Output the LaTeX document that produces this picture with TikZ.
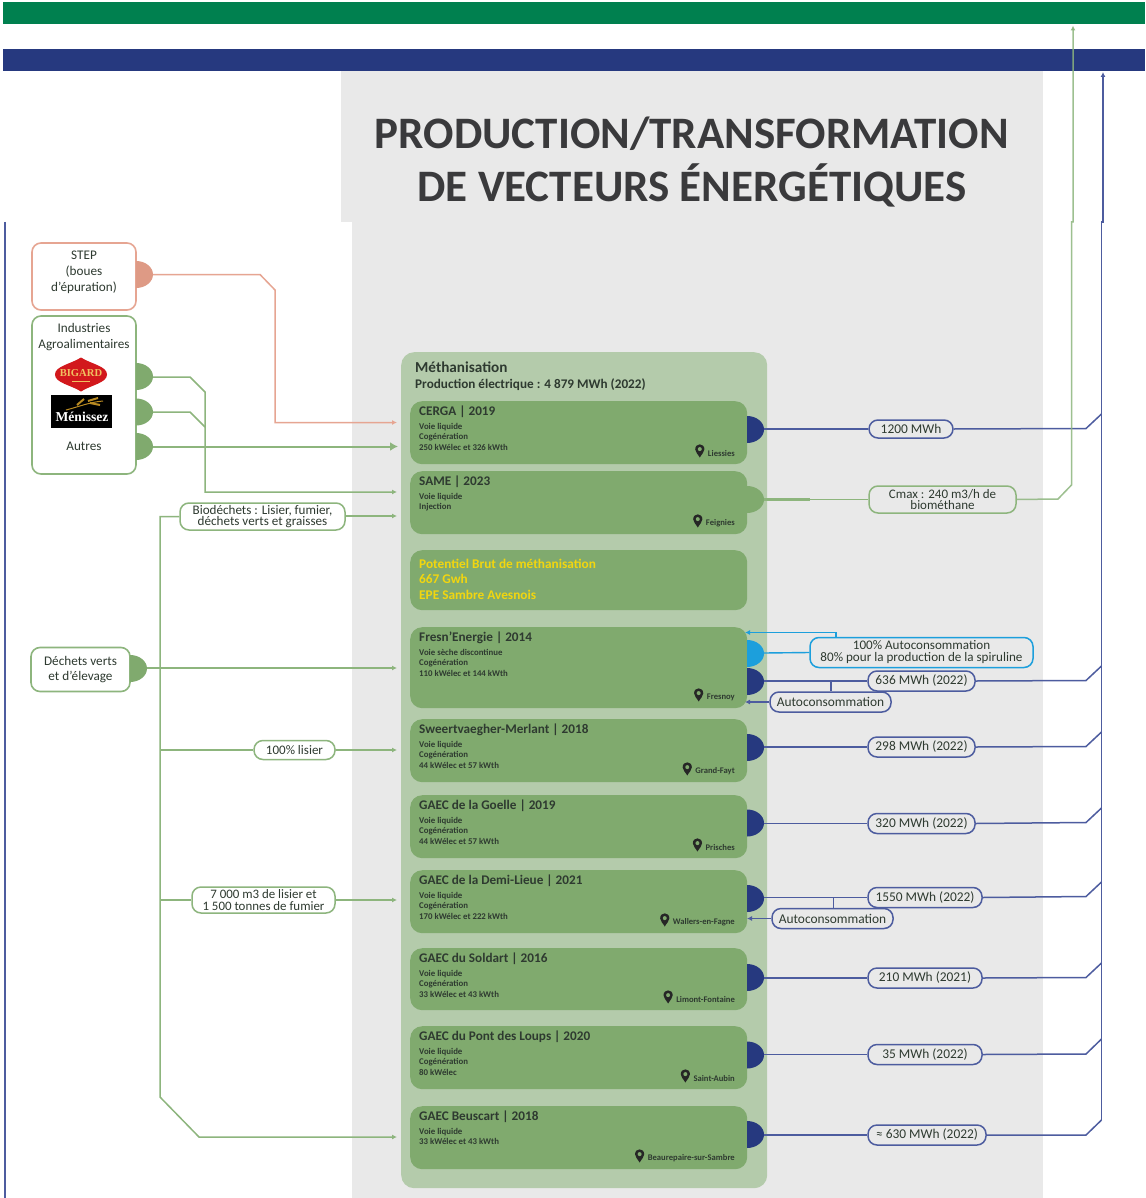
\documentclass[tikz,border=0pt]{standalone}
\usepackage{fontspec}
\setmainfont{Carlito}
\newfontfamily\logoserif{Liberation Serif}
\usetikzlibrary{arrows.meta,shapes.geometric}
\definecolor{barGreen}{HTML}{00804F}
\definecolor{barBlue}{HTML}{26397F}
\definecolor{panelGrey}{HTML}{E9E9E9}
\definecolor{panelGreen}{HTML}{B4CBAB}
\definecolor{cardGreen}{HTML}{80AA6E}
\definecolor{lineGreen}{HTML}{8DB57D}
\definecolor{lineBlue}{HTML}{4D5C9F}
\definecolor{lineSalmon}{HTML}{E6A592}
\definecolor{discSalmon}{HTML}{DE9A85}
\definecolor{skyBlue}{HTML}{1C9FDC}
\definecolor{inkDark}{HTML}{2E3A30}
\definecolor{titleInk}{HTML}{3A3A3C}
\definecolor{potYellow}{HTML}{F2D60F}
\definecolor{logoRed}{HTML}{D2181C}
\definecolor{logoGold}{HTML}{F0C060}
\definecolor{wheatGold}{HTML}{B98A22}
\tikzset{
  x=1pt,y=-1pt,
  cardbox/.style={fill=cardGreen,rounded corners=12pt,anchor=north west,minimum width=337pt,inner sep=0pt},
  cardtitle/.style={font=\fontsize{13.2}{14}\selectfont\bfseries,text=inkDark,anchor=west,inner sep=0pt},
  carddetail/.style={font=\fontsize{8.8}{10.6}\selectfont\bfseries,text=inkDark,anchor=north west,align=left,inner sep=0pt},
  cardplace/.style={font=\fontsize{8.6}{9}\selectfont\bfseries,text=inkDark,anchor=east,inner sep=0pt},
  pillbox/.style={draw=#1,line width=1.5pt,rounded corners=9pt,inner sep=0pt,align=center,text=inkDark,font=\fontsize{13.4}{10.5}\selectfont},
  pillbox/.default=lineBlue,
  srcbox/.style={draw=#1,line width=1.6pt,rounded corners=9pt,inner sep=0pt,fill=white,align=center,text=inkDark,font=\fontsize{13.2}{15.8}\selectfont},
  flowblue/.style={draw=lineBlue,line width=1.5pt},
  flowgreen/.style={draw=lineGreen,line width=1.5pt},
  flowsalmon/.style={draw=lineSalmon,line width=1.5pt},
  flowsky/.style={draw=skyBlue,line width=1.4pt},
  tip/.style={-{Latex[length=5pt,width=5pt]}},
  bigtip/.style={-{Latex[length=8pt,width=9pt]}},
}
% half disc on the right edge of a box; (#1) is its outer point
\newcommand{\halfdisc}[4]{%
  \fill[#4] (#2,#3-13.5) arc[start angle=90,end angle=-90,x radius=17pt,y radius=13.5pt] -- cycle;
  \coordinate (#1) at (#2+17,#3);
}
% site card: id, top, height, title, detail, place
\newcommand{\sitecard}[6]{%
  \node[cardbox,minimum height=#3pt] (#1) at (410,#2) {};
  \node[cardtitle] (#1t) at (419,#2+10.8) {#4};
  \node[carddetail] (#1d) at (419,#2+22) {#5};
  \node[cardplace] (#1p) at (735,#2+#3-10.5) {#6};
  \begin{scope}[shift={(#1p.west)}]
    \fill[black!85] (-8,4) .. controls (-10,0.5) and (-12.6,-1.5) .. (-12.6,-4.2) .. controls (-12.6,-10.8) and (-3.4,-10.8) .. (-3.4,-4.2) .. controls (-3.4,-1.5) and (-6,0.5) .. (-8,4) -- cycle;
    \fill[cardGreen] (-8,-4.4) circle[radius=2pt];
  \end{scope}
}
\begin{document}
\begin{tikzpicture}
\useasboundingbox (0,0) rectangle (1145,1198);
\fill[white] (0,0) rectangle (1145,1198);
% bars and panels
\fill[barGreen] (3,2) rectangle (1145,24);
\fill[barBlue] (3,49) rectangle (1145,71);
\fill[panelGrey] (341,71) rectangle (1043,222);
\fill[panelGrey] (352,222) rectangle (1043,1198);
\draw[lineBlue,line width=1.2pt] (5,222) -- (5,1198);
\node[font=\fontsize{45}{53}\selectfont\bfseries,text=titleInk,align=center,inner sep=0pt] (titre) at (692,162) {PRODUCTION/TRANSFORMATION\\DE VECTEURS ÉNERGÉTIQUES};
\node[fill=panelGreen,rounded corners=13pt,minimum width=366pt,minimum height=836pt,anchor=north west,inner sep=0pt] (metha) at (401,352) {};
\node[font=\fontsize{15.2}{16}\selectfont\bfseries,text=inkDark,anchor=west,inner sep=0pt] (methat) at (415,367) {Méthanisation};
\node[font=\fontsize{13.2}{14}\selectfont\bfseries,text=inkDark,anchor=west,inner sep=0pt] (methap) at (415,384.5) {Production électrique : 4 879 MWh (2022)};
% site cards
\sitecard{cerga}{401}{63}{CERGA | 2019}{Voie liquide\\Cogénération\\250 kWélec et 326 kWth}{Liessies}
\sitecard{same}{471}{63}{SAME | 2023}{Voie liquide\\Injection}{Feignies}
\node[cardbox,minimum height=60pt] (pot) at (410,550) {};
\node[font=\fontsize{13.3}{15.8}\selectfont\bfseries,text=potYellow,anchor=north west,align=left,inner sep=0pt] (pott) at (419,558.5) {Potentiel Brut de méthanisation\\667 Gwh\\EPE Sambre Avesnois};
\sitecard{fresn}{627}{81}{Fresn’Energie | 2014}{Voie sèche discontinue\\Cogénération\\110 kWélec et 144 kWth}{Fresnoy}
\sitecard{sweer}{719}{63}{Sweertvaegher-Merlant | 2018}{Voie liquide\\Cogénération\\44 kWélec et 57 kWth}{Grand-Fayt}
\sitecard{goel}{795}{63}{GAEC de la Goelle | 2019}{Voie liquide\\Cogénération\\44 kWélec et 57 kWth}{Prisches}
\sitecard{demi}{870}{63}{GAEC de la Demi-Lieue | 2021}{Voie liquide\\Cogénération\\170 kWélec et 222 kWth}{Wallers-en-Fagne}
\sitecard{sold}{948}{62}{GAEC du Soldart | 2016}{Voie liquide\\Cogénération\\33 kWélec et 43 kWth}{Limont-Fontaine}
\sitecard{pont}{1026}{63}{GAEC du Pont des Loups | 2020}{Voie liquide\\Cogénération\\80 kWélec}{Saint-Aubin}
\sitecard{beus}{1106}{63}{GAEC Beuscart | 2018}{Voie liquide\\33 kWélec et 43 kWth}{Beaurepaire-sur-Sambre}
% source boxes
\node[draw=lineSalmon,line width=1.6pt,rounded corners=9pt,fill=white,minimum width=104pt,minimum height=67pt,inner sep=0pt] (step) at (84,276.5) {};
\node[font=\fontsize{13.2}{15.8}\selectfont,text=inkDark,align=center,inner sep=0pt] (stept) at (84,272.5) {STEP\\(boues\\d’épuration)};
\node[draw=lineGreen,line width=1.6pt,rounded corners=9pt,fill=white,minimum width=104pt,minimum height=158pt,inner sep=0pt] (iaa) at (84,395) {};
\node[font=\fontsize{13.2}{15.5}\selectfont,text=inkDark,align=center,inner sep=0pt] (iaat) at (84,337) {Industries\\Agroalimentaires};
\node[font=\fontsize{13.2}{15}\selectfont,text=inkDark,inner sep=0pt] (autres) at (84,446.5) {Autres};
\node[srcbox=lineGreen,minimum width=99pt,minimum height=44pt] (dechets) at (80.5,669.5) {Déchets verts\\et d’élevage};
% logos
\fill[logoRed] (55,374.5) .. controls (55,366) and (71,364) .. (81,357.5) .. controls (91,364) and (107,366) .. (107,374.5) .. controls (107,383) and (91,385) .. (81,391.5) .. controls (71,385) and (55,383) .. (55,374.5) -- cycle;
\node[font=\fontsize{10.6}{11}\selectfont\bfseries\logoserif,text=logoGold,inner sep=0pt] (bigard) at (81,373.5) {BIGARD};
\draw[logoGold,line width=.5pt] (72,381.5) -- (90,381.5);
\node[fill=black,minimum width=61pt,minimum height=33pt,inner sep=0pt] (meni) at (81.5,411.5) {};
\node[font=\fontsize{13.6}{12}\selectfont\bfseries\logoserif,text=white,inner sep=0pt] (menit) at (82,416.5) {Ménissez};
\draw[wheatGold,line width=1pt] (66,410) .. controls (78,407) and (90,402) .. (103,401);
\draw[wheatGold,line width=2pt] (77,405) -- (84,399);
\draw[wheatGold,line width=2pt] (88,401) -- (98,398);
\draw[wheatGold,line width=2pt] (90,403) -- (100,405);
% input pills
\node[pillbox=lineGreen,fill=white,minimum width=165pt,minimum height=27pt,font=\fontsize{13.1}{10.8}\selectfont] (bio) at (262.5,516.5) {Biodéchets : Lisier, fumier,\\déchets verts et graisses};
\node[pillbox=lineGreen,fill=white,minimum width=81pt,minimum height=19pt,font=\fontsize{13}{12}\selectfont] (lisier) at (294.5,750) {100\% lisier};
\node[pillbox=lineGreen,fill=white,minimum width=143pt,minimum height=26pt,font=\fontsize{12.9}{11.6}\selectfont] (fumier) at (263.5,900) {7 000 m3 de lisier et\\1 500 tonnes de fumier};
% arrow targets
\coordinate (inCerga) at (397,422.5);
\coordinate (inAutres) at (398,446.5);
\coordinate (inSame) at (397,492);
\coordinate (inBio) at (397,516);
\coordinate (inFresn) at (397,668);
\coordinate (inLisier) at (397,750);
\coordinate (inFumier) at (397,900);
\coordinate (inBeus) at (397,1137);
% input connectors
\draw[flowsalmon,tip] (153,274.5) coordinate (stepOut) -- (260,274.5) -- (275,290) -- (275,422.5) -- (inCerga);
\draw[flowgreen,tip] (153,377) coordinate (bigOut) -- (190,377) -- (205,392) -- (205,492) -- (inSame);
\draw[flowgreen] (153,412) coordinate (menOut) -- (190,412) -- (205,427);
\draw[flowgreen,bigtip,line width=2pt] (153,446.5) coordinate (autOut) -- (inAutres);
\draw[flowgreen,tip] (bio.east |- inBio) -- (inBio);
\draw[flowgreen,tip] (147,668) coordinate (decOut) -- (inFresn);
\draw[flowgreen,tip] (bio.west) -- (160,516.5) -- (160,1097) -- (199,1137) -- (inBeus);
\draw[flowgreen] (160,750) -- (lisier.west);
\draw[flowgreen,tip] (lisier.east) -- (inLisier);
\draw[flowgreen] (160,900) -- (fumier.west);
\draw[flowgreen,tip] (fumier.east) -- (inFumier);
% input discs
\halfdisc{stepD}{136}{274.5}{discSalmon}
\halfdisc{bigD}{136}{376.5}{cardGreen}
\halfdisc{menD}{136}{412}{cardGreen}
\halfdisc{autD}{136}{446.5}{cardGreen}
\halfdisc{decD}{130}{668.5}{cardGreen}
% output pills
\node[pillbox,minimum width=84pt,minimum height=18pt] (p1200) at (911,429) {1200 MWh};
\node[pillbox=lineGreen,minimum width=147pt,minimum height=27pt,font=\fontsize{13}{11}\selectfont] (pcmax) at (942.5,499.5) {Cmax : 240 m3/h de\\biométhane};
\node[pillbox=skyBlue,minimum width=223pt,minimum height=30pt,font=\fontsize{13.1}{12}\selectfont] (pauto) at (921.5,652.5) {100\% Autoconsommation\\80\% pour la production de la spiruline};
\node[pillbox,minimum width=107pt,minimum height=20pt] (p636) at (921.5,681) {636 MWh (2022)};
\node[pillbox,minimum width=121pt,minimum height=20pt] (pac1) at (830.5,702) {Autoconsommation};
\node[pillbox,minimum width=107pt,minimum height=20pt] (p298) at (921.5,747) {298 MWh (2022)};
\node[pillbox,minimum width=107pt,minimum height=20pt] (p320) at (921.5,823.5) {320 MWh (2022)};
\node[pillbox,minimum width=114pt,minimum height=20pt] (p1550) at (925,897.5) {1550 MWh (2022)};
\node[pillbox,minimum width=121pt,minimum height=20pt] (pac2) at (832.5,918.5) {Autoconsommation};
\node[pillbox,minimum width=114pt,minimum height=20pt] (p210) at (925,978) {210 MWh (2021)};
\node[pillbox,minimum width=114pt,minimum height=20pt] (p35) at (925,1054.5) {35 MWh (2022)};
\node[pillbox,minimum width=118pt,minimum height=20pt] (p630) at (927,1135) {≈ 630 MWh (2022)};
% output connectors to the trunk
\foreach \pname/\py/\pyy/\pup in {p1200/429/428.5/414,p636/681/680.5/666,p298/747/746.5/732,p320/823.5/822.5/808,p1550/897.5/896.5/882,p210/978/977.5/963,p35/1054.5/1054/1039,p630/1135/1135/1120}{
  \draw[flowblue] (764,\py) -- (\pname.west);
  \draw[flowblue] (\pname.east) -- (1086,\pyy) -- (1101.5,\pup);
}
\coordinate (trunkTop) at (1103,72);
\draw[flowblue,tip] (1101.5,1120) -- (1101.5,222) -- (1103,222) -- (trunkTop);
\coordinate (greenTop) at (1073,25.5);
\draw[flowgreen,tip,opacity=.85] (pcmax.east) -- (1058,499) -- (1071.5,485) -- (1071.5,222) -- (1073,222) -- (greenTop);
\draw[flowgreen] (764,499.5) -- (pcmax.west);
\draw[flowgreen,line width=2.2pt] (764,499.5) -- (810,499.5);
\draw[flowsky] (764,653) -- (pauto.west);
\coordinate (fresnTop) at (745,632.5);
\draw[flowsky,tip] (836,637.5) -- (836,632.5) -- (fresnTop);
\draw[flowblue] (831,681) -- (pac1.north -| 831,692);
\draw[flowblue,tip] (pac1.west) -- (745,702);
\draw[flowblue] (833.5,897.5) -- (pac2.north -| 833.5,908.5);
\draw[flowblue,tip] (pac2.west) -- (747,918.5);
% output discs
\halfdisc{cergaD}{747}{429.5}{barBlue}
\halfdisc{sameD}{747}{499.5}{cardGreen}
\halfdisc{fresnS}{747}{653.5}{skyBlue}
\halfdisc{fresnD}{747}{681.5}{barBlue}
\halfdisc{sweerD}{747}{747.5}{barBlue}
\halfdisc{goelD}{747}{823}{barBlue}
\halfdisc{demiD}{747}{898.5}{barBlue}
\halfdisc{soldD}{747}{977.5}{barBlue}
\halfdisc{pontD}{747}{1055}{barBlue}
\halfdisc{beusD}{747}{1134.5}{barBlue}
\end{tikzpicture}
\end{document}
